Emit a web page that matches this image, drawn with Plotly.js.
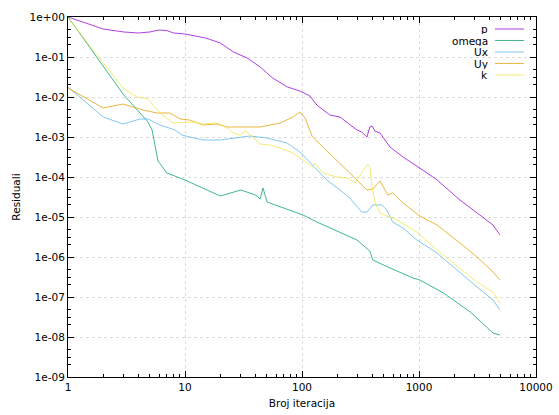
<!DOCTYPE html>
<html>
<head>
<meta charset="utf-8">
<script src="https://cdn.plot.ly/plotly-3.0.1.min.js"></script>
<style>html,body{margin:0;padding:0;background:#fff;}#chart{width:559px;height:415px;}</style>
</head>
<body>
<div id="chart"></div>
<script>
// ---- data ----
const seriesNames = ["p", "omega", "Ux", "Uy", "k"];
const seriesColors = ["#9400d3", "#009e73", "#56b4e9", "#e69f00", "#f0e442"];

const pIter = [1, 2, 3, 4, 5, 6, 7, 8, 10, 12, 15, 20, 26, 34, 44, 56, 75, 96, 117, 134, 173, 211, 295, 324, 359, 380, 397, 420, 464, 565, 730, 1080, 1430, 2240, 3130, 4290, 4920];
const pVal  = [1.0, 0.501, 0.422, 0.398, 0.422, 0.473, 0.457, 0.398, 0.376, 0.335, 0.299, 0.224, 0.133, 0.0944, 0.0562, 0.0299, 0.0178, 0.0141, 0.0106, 0.0063, 0.00355, 0.00316, 0.0015, 0.00133, 0.001, 0.00178, 0.00188, 0.00141, 0.00126, 5.62e-4, 3.16e-4, 1.48e-4, 8.41e-5, 2.66e-5, 1.26e-5, 6.31e-6, 3.55e-6];

const omegaIter = [1, 3, 4.83, 5.23, 5.88, 7.0, 10, 20, 30, 40, 43.8, 46.4, 50.3, 79, 102, 134, 295, 380, 403, 565, 889, 1016, 1617, 2744, 4290, 4920];
const omegaVal  = [1.0, 0.0112, 2.37e-3, 1.5e-3, 2.51e-4, 1.26e-4, 8.41e-5, 3.35e-5, 4.73e-5, 3.55e-5, 2.82e-5, 5.31e-5, 2.37e-5, 1.5e-5, 1.12e-5, 7.5e-6, 2.66e-6, 1.41e-6, 8.41e-7, 5.31e-7, 2.99e-7, 2.66e-7, 1.26e-7, 4.22e-8, 1.26e-8, 1.12e-8];

const uxIter = [1, 2, 2.95, 4.12, 4.83, 6.1, 8.2, 9.4, 11, 14.2, 19.9, 29.5, 35.8, 50.3, 74.6, 96, 123, 163, 211, 256, 324, 359, 403, 481, 530, 596, 730, 959, 1426, 2239, 3133, 4290, 4923];
const uxVal  = [0.0178, 3.16e-3, 2.11e-3, 2.82e-3, 2.82e-3, 2.0e-3, 1.5e-3, 1.12e-3, 1.0e-3, 8.41e-4, 8.41e-4, 1.0e-3, 1.06e-3, 9.44e-4, 7.08e-4, 4.22e-4, 2.0e-4, 8.41e-5, 4.73e-5, 2.99e-5, 1.33e-5, 1.33e-5, 2.0e-5, 2.0e-5, 1.5e-5, 7.5e-6, 5.31e-6, 2.66e-6, 1.26e-6, 3.98e-7, 1.78e-7, 8.41e-8, 4.73e-8];

const uyIter = [1, 2, 2.95, 4.38, 5.76, 7.4, 9.1, 11, 14.2, 18.7, 22.9, 43.8, 65, 84, 96, 106, 123, 151, 199, 256, 359, 403, 464, 543, 596, 730, 1016, 1426, 2239, 3133, 4290, 4923];
const uyVal  = [0.0168, 5.31e-3, 6.68e-3, 4.73e-3, 3.98e-3, 3.98e-3, 2.82e-3, 2.66e-3, 2.0e-3, 2.11e-3, 1.78e-3, 1.78e-3, 2.24e-3, 3.16e-3, 4.22e-3, 2.99e-3, 1.0e-3, 5.62e-4, 2.66e-4, 1.26e-4, 4.73e-5, 5.01e-5, 7.94e-5, 3.55e-5, 3.98e-5, 2.24e-5, 1.06e-5, 6.31e-6, 2.24e-6, 1.0e-6, 4.22e-7, 2.66e-7];

const kIter = [1, 2.95, 3.89, 4.83, 6.1, 7.9, 11.7, 14.2, 18.8, 22.9, 25.7, 29.5, 32.7, 38.1, 43.8, 53, 65, 84, 96, 123, 128, 151, 199, 246, 283, 324, 365, 380, 397, 420, 464, 648, 959, 1426, 2239, 3133, 4290, 4923];
const kVal  = [0.95, 0.0168, 0.01, 8.91e-3, 3.98e-3, 2.24e-3, 2.37e-3, 2.11e-3, 2.24e-3, 1.68e-3, 1.26e-3, 1.12e-3, 1.41e-3, 1.0e-3, 6.68e-4, 6.31e-4, 5.31e-4, 3.98e-4, 2.99e-4, 1.78e-4, 2.24e-4, 1.26e-4, 1.0e-4, 9.44e-5, 7.08e-5, 1.26e-4, 2.11e-4, 1.78e-4, 5.62e-5, 2.37e-5, 1.26e-5, 8.41e-6, 4.22e-6, 1.5e-6, 5.31e-7, 2.37e-7, 1.33e-7, 7.08e-8];

const xTickVals = [1, 10, 100, 1000, 10000];
const xTickText = ["1", "10", "100", "1000", "10000"];
const yTickVals = [1, 1e-1, 1e-2, 1e-3, 1e-4, 1e-5, 1e-6, 1e-7, 1e-8, 1e-9];
const yTickText = ["1e+00", "1e-01", "1e-02", "1e-03", "1e-04", "1e-05", "1e-06", "1e-07", "1e-08", "1e-09"];
const xTitle = "Broj iteracija";
const yTitle = "Residuali";

// ---- build ----
const xs = [pIter, omegaIter, uxIter, uyIter, kIter];
const ys = [pVal, omegaVal, uxVal, uyVal, kVal];
const traces = seriesNames.map((n, i) => ({
  type: "scatter", mode: "lines", name: n, x: xs[i], y: ys[i],
  line: {color: seriesColors[i], width: 1}, opacity: 0.75, showlegend: false
}));

const FONT = "DejaVu Sans, sans-serif";
const FS = 10.5;
const yMinor = [];
for (let e = -9; e < 0; e++) { [2, 3, 5].forEach(m => yMinor.push(m * Math.pow(10, e))); }

// legend drawn gnuplot-style: text right, sample line to the right
const annotations = [];
const shapes = [];
const legTop = 0.9667, legStep = 0.0319;
seriesNames.forEach((n, i) => {
  const yy = legTop - i * legStep;
  annotations.push({xref: "paper", yref: "paper", x: 0.9, y: yy, xanchor: "right", yanchor: "middle",
    text: n, showarrow: false, height: 11, borderpad: 0,
    font: {family: FONT, size: FS, color: "#000"}});
  shapes.push({type: "line", xref: "paper", yref: "paper", x0: 0.9124, x1: 0.9744, y0: yy, y1: yy,
    opacity: 0.75, line: {color: seriesColors[i], width: 1}});
});

const axisCommon = {
  type: "log", showline: true, linecolor: "#000", linewidth: 1, mirror: "allticks",
  ticks: "inside", ticklen: 6, tickcolor: "#000", tickwidth: 1,
  showgrid: true, gridcolor: "#dcdcdc", griddash: "dot", gridwidth: 1,
  zeroline: false, tickfont: {family: FONT, size: FS, color: "#000"}
};

const layout = {
  width: 559, height: 415,
  margin: {l: 68, r: 23, t: 17, b: 38},
  paper_bgcolor: "#fff", plot_bgcolor: "#fff",
  font: {family: FONT, size: FS, color: "#000"},
  xaxis: Object.assign({}, axisCommon, {
    range: [0, 4], tickmode: "array", tickvals: xTickVals, ticktext: xTickText,
    minor: {ticks: "inside", ticklen: 3, tickcolor: "#000", dtick: "D1", showgrid: false},
    title: {text: xTitle, font: {family: FONT, size: FS, color: "#000"}, standoff: 8}
  }),
  yaxis: Object.assign({}, axisCommon, {
    range: [-9, 0], tickmode: "array", tickvals: yTickVals, ticktext: yTickText,
    minor: {ticks: "inside", ticklen: 3, tickcolor: "#000", tickmode: "array", tickvals: yMinor, showgrid: false},
    title: {text: yTitle, font: {family: FONT, size: FS, color: "#000"}, standoff: 6}
  }),
  annotations: annotations,
  shapes: shapes,
  showlegend: false
};

Plotly.newPlot("chart", traces, layout, {displayModeBar: false, staticPlot: true});
</script>
</body>
</html>
